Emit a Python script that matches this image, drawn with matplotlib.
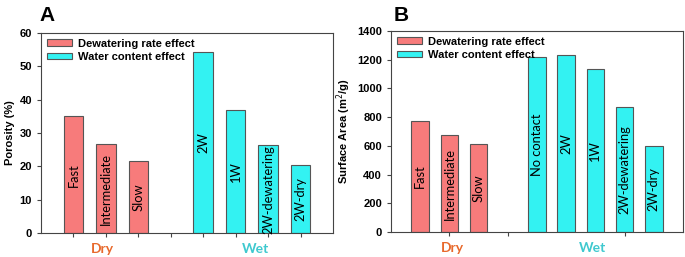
import matplotlib
matplotlib.use("Agg")
import matplotlib.pyplot as plt
from matplotlib.patches import Patch

# ---- data ----
a_labels = ["Fast", "Intermediate", "Slow", "2W", "1W", "2W-dewatering", "2W-dry"]
a_values = [35.0, 26.6, 21.6, 54.2, 36.8, 26.3, 20.4]
a_groups = ["dry", "dry", "dry", "wet", "wet", "wet", "wet"]
a_pos = [0, 1, 2, 4, 5, 6, 7]

b_labels = ["Fast", "Intermediate", "Slow", "No contact", "2W", "1W", "2W-dewatering", "2W-dry"]
b_values = [776, 674, 612, 1217, 1233, 1133, 871, 600]
b_groups = ["dry", "dry", "dry", "wet", "wet", "wet", "wet", "wet"]
b_pos = [0, 1, 2, 4, 5, 6, 7, 8]

legend_labels = ["Dewatering rate effect", "Water content effect"]
group_names = ["Dry", "Wet"]

RED = "#F77B7B"
CYAN = "#33F2F2"
EDGE = "#555555"
DRY_C = "#E8692C"
WET_C = "#3FC9CF"
colors = {"dry": RED, "wet": CYAN}

fig = plt.figure(figsize=(6.85, 2.57), dpi=100)
axA = fig.add_axes([0.0599, 0.0934, 0.4262, 0.7782])
axB = fig.add_axes([0.5708, 0.0973, 0.4262, 0.7817])


def draw(ax, pos, vals, labels, groups, ylim, yticks, ylabel, xlim, xticks,
         grp_x, panel, panel_x):
    ax.bar(pos, vals, width=0.6, color=[colors[g] for g in groups],
           edgecolor=EDGE, linewidth=0.8, zorder=2)
    for p, v, l in zip(pos, vals, labels):
        ax.text(p, v / 2, l, rotation=90, ha="center", va="center",
                fontsize=9.3, family="Lato", color="black", zorder=3)
    ax.set_xlim(*xlim)
    ax.set_ylim(*ylim)
    ax.set_yticks(yticks)
    ax.set_xticks(xticks)
    ax.set_xticklabels([])
    ax.tick_params(axis="both", direction="out", length=3, width=0.8,
                   color="#444444")
    for lab in ax.get_yticklabels():
        lab.set_fontweight("bold")
        lab.set_fontsize(8)
        lab.set_family("Liberation Sans")
    ax.set_ylabel(ylabel, fontsize=8, fontweight="bold", family="Liberation Sans",
                  labelpad=3)
    for s in ax.spines.values():
        s.set_color("#444444")
        s.set_linewidth(0.8)
    handles = [Patch(facecolor=RED, edgecolor=EDGE, linewidth=0.8),
               Patch(facecolor=CYAN, edgecolor=EDGE, linewidth=0.8)]
    ax.legend(handles, legend_labels, loc="upper left", frameon=False,
              prop={"family": "Liberation Sans", "weight": "bold", "size": 8},
              handlelength=2.3, handleheight=0.55, handletextpad=0.5,
              labelspacing=0.3, borderaxespad=0.3, borderpad=0.2)
    trans = ax.get_xaxis_transform()
    ax.text(grp_x[0], -0.08, group_names[0], transform=trans, ha="center",
            va="center", fontsize=10, fontweight="bold", family="Lato", color=DRY_C)
    ax.text(grp_x[1], -0.08, group_names[1], transform=trans, ha="center",
            va="center", fontsize=10, fontweight="bold", family="Lato", color=WET_C)
    fig.text(panel_x, 0.94, panel, fontsize=15, fontweight="bold",
             family="Liberation Sans", ha="left", va="center")


draw(axA, a_pos, a_values, a_labels, a_groups, (0, 60), range(0, 61, 10),
     "Porosity (%)", (-1, 8), range(0, 8), (0.9, 5.6), "A", 0.058)
draw(axB, b_pos, b_values, b_labels, b_groups, (0, 1400), range(0, 1401, 200),
     "Surface Area (m$^2$/g)", (-1, 9), [1, 3, 7], (1.1, 5.9), "B", 0.574)

fig.savefig("out.png", dpi=100)
